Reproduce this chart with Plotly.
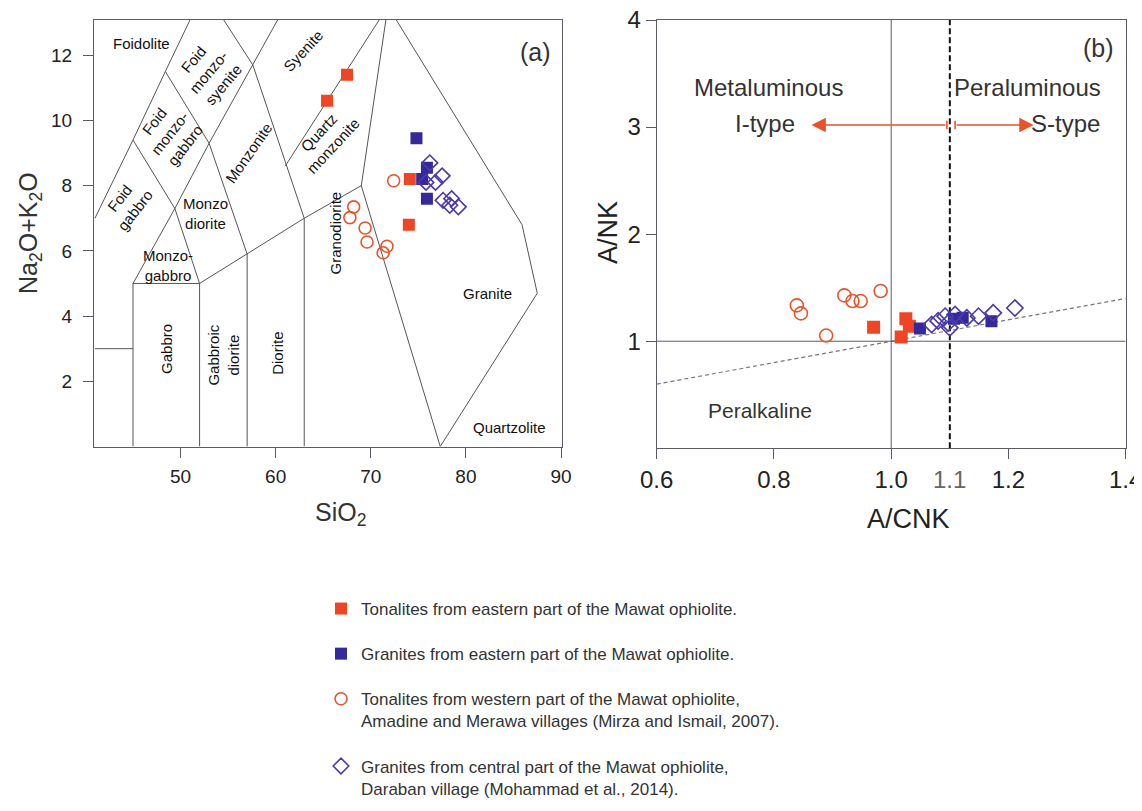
import plotly.graph_objects as go

# ---------------- Panel (a): TAS (SiO2 vs Na2O+K2O) ----------------
east_tonalite_sio2 = [65.4, 67.5, 74.1, 74.0]
east_tonalite_alk = [10.6, 11.4, 8.2, 6.8]
east_granite_sio2 = [74.8, 75.9, 75.4, 75.9]
east_granite_alk = [9.45, 8.55, 8.2, 7.6]
west_tonalite_sio2 = [72.4, 68.2, 67.8, 69.4, 69.6, 71.7, 71.3]
west_tonalite_alk = [8.15, 7.35, 7.02, 6.7, 6.27, 6.14, 5.94]
central_granite_sio2 = [76.2, 77.5, 76.8, 75.8, 77.6, 78.5, 78.3, 79.2]
central_granite_alk = [8.7, 8.3, 8.1, 8.1, 7.55, 7.6, 7.4, 7.35]

# TAS field boundaries (Middlemost plutonic), each a polyline
tas_lines = {
    "peridot_top": ([41, 45], [3, 3]),
    "gabbro_left": ([45, 45], [0, 5]),
    "gabbro_top": ([45, 52], [5, 5]),
    "gabbro_right": ([52, 52], [0, 5]),
    "diorite_series_top": ([52, 57, 63, 69], [5, 5.9, 7, 8]),
    "gabbroic_diorite_right": ([57, 57], [0, 5.9]),
    "diorite_right": ([63, 63], [0, 7]),
    "foidolite_lower": ([41, 45, 48.4, 52.5], [7, 9.4, 11.5, 14]),
    "monzogabbro_left": ([45, 49.4, 53, 57.6, 61], [5, 7.3, 9.3, 11.7, 13.5]),
    "foid_gabbro_right": ([45, 49.4, 52], [9.4, 7.3, 5]),
    "foid_monzogabbro_right": ([48.4, 53, 57], [11.5, 9.3, 5.9]),
    "monzonite_right": ([52.5, 57.6, 63], [14, 11.7, 7]),
    "syenite_lower": ([61, 71.8], [8.6, 13.5]),
    "granite_left": ([69, 71.8], [8, 13.5]),
    "granodiorite_right": ([69, 77.3], [8, 0]),
    "granite_right": ([71.8, 85.9, 87.5, 77.3], [13.5, 6.8, 4.7, 0]),
}

field_labels = ["Foidolite", "Foid<br>monzo-<br>syenite", "Foid<br>monzo-<br>gabbro", "Foid<br>gabbro",
                "Monzonite", "Monzo<br>diorite", "Monzo-<br>gabbro", "Gabbro", "Gabbroic<br>diorite",
                "Diorite", "Granodiorite", "Syenite", "Quartz<br>monzonite", "Granite", "Quartzolite"]
field_label_x = [45.9, 52.9, 48.9, 44.4, 57.1, 52.6, 48.7, 48.5, 54.5, 60.2, 66.25, 62.9, 65.3, 82.3, 84.6]
field_label_y = [12.37, 11.5, 9.6, 7.43, 9.0, 7.15, 5.56, 3.0, 2.8, 2.86, 6.54, 12.15, 9.4, 4.7, 0.59]
field_label_angle = [0, -50, -52, -52, -55, 0, 0, -90, -90, -90, -90, -47, -47, 0, 0]

# ---------------- Panel (b): A/CNK vs A/NK ----------------
east_tonalite_acnk = [0.97, 1.025, 1.031, 1.017]
east_tonalite_ank = [1.13, 1.21, 1.14, 1.04]
east_granite_acnk = [1.049, 1.107, 1.122, 1.171]
east_granite_ank = [1.12, 1.21, 1.22, 1.187]
west_tonalite_acnk = [0.839, 0.846, 0.889, 0.92, 0.934, 0.948, 0.982]
west_tonalite_ank = [1.335, 1.26, 1.053, 1.428, 1.375, 1.375, 1.469]
central_granite_acnk = [1.069, 1.08, 1.092, 1.097, 1.109, 1.1, 1.129, 1.149, 1.174, 1.211]
central_granite_ank = [1.156, 1.19, 1.234, 1.17, 1.25, 1.125, 1.218, 1.234, 1.265, 1.31]

acnk_boundary_x = [1.0, 1.0]
acnk_boundary_y = [0, 4]
ank_boundary_x = [0.6, 1.4]
ank_boundary_y = [1.0, 1.0]
is_type_boundary_x = [1.1, 1.1]
is_type_boundary_y = [0, 4]
peralkaline_line_x = [0.6, 1.4]
peralkaline_line_y = [0.6, 1.4]

legend_names = [
    "Tonalites from eastern part of the Mawat ophiolite.",
    "Granites from eastern part of the Mawat ophiolite.",
    "Tonalites from western part of the Mawat ophiolite,<br>Amadine and Merawa villages (Mirza and Ismail, 2007).",
    "Granites from central part of the Mawat ophiolite,<br>Daraban village (Mohammad et al., 2014).",
]

RED = "#ee4524"
BLUE = "#35289a"
ORANGE = "#e8532b"
PURPLE = "#4a3aab"
AXC = "#5d5a66"
FONT = "Liberation Sans, Arial, sans-serif"

# The page body has an 8px margin; the figure is sized/offset to fit the 1142x811 window.
OFF = 8
W, H = 1142 - OFF, 811 - OFF


def px_x(p):
    return (p - OFF) / W


def px_y(p):
    return 1 - (p - OFF) / H


fig = go.Figure()

# TAS boundary lines
for name, (xs, ys) in tas_lines.items():
    fig.add_trace(go.Scatter(x=xs, y=ys, mode="lines", line=dict(color="#555", width=1),
                             showlegend=False, hoverinfo="skip", xaxis="x", yaxis="y"))

# Panel (a) data
fig.add_trace(go.Scatter(x=west_tonalite_sio2, y=west_tonalite_alk, mode="markers",
                         marker=dict(symbol="circle-open", size=12, color=ORANGE, line=dict(width=1.6)),
                         name=legend_names[2], legendgroup="g3", legendrank=3, xaxis="x", yaxis="y"))
fig.add_trace(go.Scatter(x=east_tonalite_sio2, y=east_tonalite_alk, mode="markers",
                         marker=dict(symbol="square", size=12, color=RED),
                         name=legend_names[0], legendgroup="g1", legendrank=1, xaxis="x", yaxis="y"))
fig.add_trace(go.Scatter(x=east_granite_sio2, y=east_granite_alk, mode="markers",
                         marker=dict(symbol="square", size=12, color=BLUE),
                         name=legend_names[1], legendgroup="g2", legendrank=2, xaxis="x", yaxis="y"))
fig.add_trace(go.Scatter(x=central_granite_sio2, y=central_granite_alk, mode="markers",
                         marker=dict(symbol="diamond-open", size=12, color=PURPLE, line=dict(width=1.6)),
                         name=legend_names[3], legendgroup="g4", legendrank=4, xaxis="x", yaxis="y"))

# Panel (b) reference lines
fig.add_trace(go.Scatter(x=peralkaline_line_x, y=peralkaline_line_y, mode="lines",
                         line=dict(color="#777", width=1.2, dash="4px,3px"),
                         showlegend=False, hoverinfo="skip", xaxis="x2", yaxis="y2"))
fig.add_trace(go.Scatter(x=acnk_boundary_x, y=acnk_boundary_y, mode="lines",
                         line=dict(color=AXC, width=1), showlegend=False, hoverinfo="skip",
                         xaxis="x2", yaxis="y2"))
fig.add_trace(go.Scatter(x=ank_boundary_x, y=ank_boundary_y, mode="lines",
                         line=dict(color=AXC, width=1), showlegend=False, hoverinfo="skip",
                         xaxis="x2", yaxis="y2"))
fig.add_trace(go.Scatter(x=is_type_boundary_x, y=is_type_boundary_y, mode="lines",
                         line=dict(color="#111", width=2, dash="6px,3px"), showlegend=False,
                         hoverinfo="skip", xaxis="x2", yaxis="y2"))

# Panel (b) data
fig.add_trace(go.Scatter(x=west_tonalite_acnk, y=west_tonalite_ank, mode="markers",
                         marker=dict(symbol="circle-open", size=13, color=ORANGE, line=dict(width=1.6)),
                         showlegend=False, xaxis="x2", yaxis="y2"))
fig.add_trace(go.Scatter(x=east_tonalite_acnk, y=east_tonalite_ank, mode="markers",
                         marker=dict(symbol="square", size=13, color=RED),
                         showlegend=False, xaxis="x2", yaxis="y2"))
fig.add_trace(go.Scatter(x=east_granite_acnk, y=east_granite_ank, mode="markers",
                         marker=dict(symbol="square", size=12, color=BLUE),
                         showlegend=False, xaxis="x2", yaxis="y2"))
fig.add_trace(go.Scatter(x=central_granite_acnk, y=central_granite_ank, mode="markers",
                         marker=dict(symbol="diamond-open", size=12.5, color=PURPLE, line=dict(width=1.6)),
                         showlegend=False, xaxis="x2", yaxis="y2"))

annotations = []
for t, x, y, a in zip(field_labels, field_label_x, field_label_y, field_label_angle):
    annotations.append(dict(text=t, x=x, y=y, xref="x", yref="y", showarrow=False, textangle=a,
                            xanchor="center", yanchor="middle",
                            font=dict(size=15, color="#111", family=FONT)))
annotations.append(dict(text="(a)", x=87.3, y=12.1, xref="x", yref="y", showarrow=False,
                        xanchor="center", yanchor="middle",
                        font=dict(size=25, color="#333", family=FONT)))

# Panel b texts
for t, x, y, s in [("Metaluminous", 0.79, 3.37, 24), ("I-type", 0.785, 3.03, 24),
                   ("Peraluminous", 1.233, 3.37, 24), ("S-type", 1.298, 3.03, 24),
                   ("Peralkaline", 0.776, 0.35, 21), ("(b)", 1.353, 3.74, 25)]:
    annotations.append(dict(text=t, x=x, y=y, xref="x2", yref="y2", showarrow=False,
                            xanchor="center", yanchor="middle",
                            font=dict(size=s, color="#333", family=FONT)))

# Arrows
arrow_y = 3.02
for tip, tail in [(0.864, 1.095), (1.243, 1.109)]:
    annotations.append(dict(text="", x=tip, y=arrow_y, ax=tail, ay=arrow_y, xref="x2", yref="y2",
                            axref="x2", ayref="y2", showarrow=True, arrowhead=2, arrowsize=1.8,
                            arrowwidth=1.6, arrowcolor=ORANGE))

# Axis titles
annotations += [
    dict(text="Na<sub>2</sub>O+K<sub>2</sub>O", x=px_x(30), y=px_y(233), xref="paper", yref="paper",
         xanchor="center", yanchor="middle",
         showarrow=False, textangle=-90, font=dict(size=25, color="#333", family=FONT)),
    dict(text="SiO<sub>2</sub>", x=px_x(340), y=px_y(514), xref="paper", yref="paper",
         xanchor="center", yanchor="middle",
         showarrow=False, font=dict(size=25, color="#333", family=FONT)),
    dict(text="A/NK", x=px_x(608), y=px_y(233), xref="paper", yref="paper",
         xanchor="center", yanchor="middle",
         showarrow=False, textangle=-90, font=dict(size=27, color="#222", family=FONT)),
    dict(text="A/CNK", x=px_x(908), y=px_y(519), xref="paper", yref="paper",
         xanchor="center", yanchor="middle",
         showarrow=False, font=dict(size=27, color="#222", family=FONT)),
    dict(text="1.1", x=1.1, y=px_y(479), xref="x2", yref="paper",
         xanchor="center", yanchor="middle",
         showarrow=False, font=dict(size=24, color="#666", family=FONT)),
]

shapes = []
for xb in [1.095, 1.109]:
    shapes.append(dict(type="line", xref="x2", yref="y2", x0=xb, x1=xb, y0=arrow_y - 0.04,
                       y1=arrow_y + 0.04, line=dict(color=ORANGE, width=1.6)))

axis_common = dict(showline=True, linecolor=AXC, linewidth=1, mirror=True, ticks="outside",
                   tickcolor=AXC, ticklen=10, showgrid=False, zeroline=False, automargin=False,
                   ticklabeloverflow="allow")

fig.update_layout(
    template="none",
    width=W, height=H,
    margin=dict(l=0, r=0, t=0, b=0, pad=0, autoexpand=False),
    paper_bgcolor="white", plot_bgcolor="white",
    font=dict(family=FONT, color="#222"),
    xaxis=dict(domain=[px_x(94), px_x(562)], range=[40.9, 90.1], tickvals=[50, 60, 70, 80, 90],
               tickfont=dict(size=19, color="#222"), anchor="y", ticklabelstandoff=3, **axis_common),
    yaxis=dict(domain=[px_y(446.5), px_y(20)], range=[0, 13.08], tickvals=[2, 4, 6, 8, 10, 12],
               tickfont=dict(size=19, color="#222"), anchor="x", ticklabelstandoff=7, **axis_common),
    xaxis2=dict(domain=[px_x(656.7), px_x(1125.7)], range=[0.6, 1.4],
                tickvals=[0.6, 0.8, 1.0, 1.2, 1.4], ticktext=["0.6", "0.8", "1.0", "1.2", "1.4"],
                tickfont=dict(size=24, color="#222"), anchor="y2", **axis_common),
    yaxis2=dict(domain=[px_y(448.3), px_y(20)], range=[0, 4], tickvals=[1, 2, 3, 4],
                tickfont=dict(size=24, color="#222"), anchor="x2", **axis_common),
    legend=dict(x=px_x(321), y=px_y(591), xanchor="left", yanchor="top",
                font=dict(size=17, color="#333", family=FONT), tracegroupgap=20, valign="top",
                bgcolor="rgba(0,0,0,0)", traceorder="grouped"),
    annotations=annotations,
    shapes=shapes,
)

fig.write_html("out.html")
